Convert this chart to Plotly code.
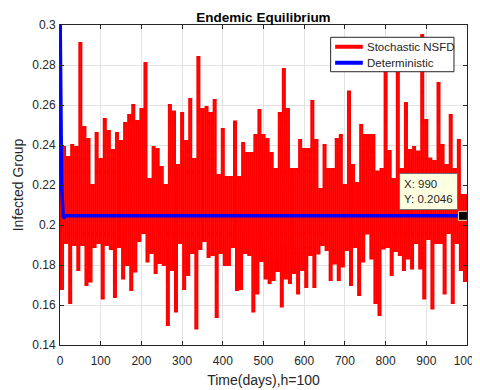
import plotly.graph_objects as go

# ---- data ----
# Stochastic NSFD: local maxima at days 0,10,...,1000 and local minima at days 5,15,...,995
stoch_high = [
    0.271, 0.239, 0.234, 0.240, 0.239, 0.291, 0.249, 0.243, 0.220, 0.246,
    0.233, 0.253, 0.247, 0.2375, 0.246, 0.242, 0.251, 0.255, 0.260, 0.252,
    0.258, 0.281, 0.223, 0.239, 0.238, 0.229, 0.220, 0.260, 0.2567, 0.230,
    0.256, 0.242, 0.263, 0.233, 0.284, 0.258, 0.259, 0.256, 0.2625, 0.225,
    0.248, 0.224, 0.224, 0.2517, 0.224, 0.241, 0.236, 0.236, 0.245, 0.2575,
    0.245, 0.243, 0.236, 0.228, 0.256, 0.278, 0.258, 0.228, 0.228, 0.2425,
    0.238, 0.238, 0.262, 0.2425, 0.218, 0.240, 0.228, 0.228, 0.243, 0.245,
    0.220, 0.2667, 0.230, 0.221, 0.250, 0.245, 0.245, 0.245, 0.2267, 0.228,
    0.284, 0.237, 0.223, 0.276, 0.228, 0.261, 0.2375, 0.239, 0.2367, 0.295,
    0.2525, 0.2333, 0.232, 0.271, 0.240, 0.230, 0.255, 0.228, 0.2425, 0.215,
    0.215,
]
stoch_low = [
    0.168, 0.191, 0.161, 0.190, 0.1775, 0.190, 0.170, 0.1717, 0.189, 0.191,
    0.1633, 0.190, 0.188, 0.164, 0.189, 0.1733, 0.180, 0.1675, 0.1767, 0.192,
    0.196, 0.1817, 0.186, 0.176, 0.181, 0.180, 0.150, 0.1775, 0.1567, 0.191,
    0.168, 0.175, 0.186, 0.1483, 0.188, 0.192, 0.184, 0.185, 0.154, 0.186,
    0.180, 0.180, 0.189, 0.1675, 0.168, 0.186, 0.185, 0.1567, 0.1658, 0.182,
    0.1733, 0.171, 0.1725, 0.177, 0.1592, 0.1733, 0.171, 0.176, 0.1658, 0.1775,
    0.169, 0.185, 0.169, 0.1858, 0.190, 0.1875, 0.1725, 0.1808, 0.1725, 0.1792,
    0.1875, 0.170, 0.189, 0.165, 0.1817, 0.1958, 0.1833, 0.161, 0.155, 0.1883,
    0.189, 0.175, 0.187, 0.185, 0.1775, 0.1833, 0.1783, 0.191, 0.1783, 0.1633,
    0.193, 0.1583, 0.191, 0.191, 0.1658, 0.196, 0.161, 0.191, 0.1775, 0.172,
]
high_days = [10 * k for k in range(len(stoch_high))]
low_days = [10 * k + 5 for k in range(len(stoch_low))]

# Deterministic solution
det_days = [0, 4, 8, 15, 1000]
det_vals = [0.31, 0.22, 0.2035, 0.2046, 0.2046]

# Data tip
tip_x = 990
tip_y = 0.2046

series_names = ["Stochastic NSFD", "Deterministic"]
series_colors = ["#ff0000", "#0000ff"]

x_ticks = [0, 100, 200, 300, 400, 500, 600, 700, 800, 900, 1000]
y_ticks = [0.14, 0.16, 0.18, 0.2, 0.22, 0.24, 0.26, 0.28, 0.3]
y_ticktext = ["0.14", "0.16", "0.18", "0.2", "0.22", "0.24", "0.26", "0.28", "0.3"]

# interleave maxima and minima into one time series
stoch_days, stoch_vals = [], []
for i in range(len(stoch_high)):
    stoch_days.append(high_days[i]); stoch_vals.append(stoch_high[i])
    if i < len(stoch_low):
        stoch_days.append(low_days[i]); stoch_vals.append(stoch_low[i])

FONT = "Liberation Sans, Arial, Helvetica, sans-serif"
AX = "#262626"

fig = go.Figure()
fig.add_trace(go.Scatter(x=stoch_days, y=stoch_vals, mode="lines", name=series_names[0],
                         line=dict(color=series_colors[0], width=2, shape="hvh"),
                         showlegend=False))
fig.add_trace(go.Scatter(x=det_days, y=det_vals, mode="lines", name=series_names[1],
                         line=dict(color=series_colors[1], width=3.5), showlegend=False))
fig.add_trace(go.Scatter(x=[tip_x], y=[tip_y], mode="markers", showlegend=False,
                         marker=dict(symbol="square", size=9, color="black",
                                     line=dict(color="#e8e0b8", width=1))))

# data tip label
fig.add_annotation(x=tip_x, y=tip_y, xref="x", yref="y", showarrow=False,
                   text=f"X: {tip_x}<br>Y: {tip_y}", align="left",
                   xanchor="right", yanchor="bottom", xshift=-5, yshift=6,
                   bgcolor="#ffffe1", bordercolor="#707070", borderwidth=1, borderpad=4,
                   font=dict(family=FONT, size=11.5, color="#262626"))

# legend box (MATLAB style)
fig.add_shape(type="rect", xref="paper", yref="paper", x0=0.665, x1=0.968, y0=0.854, y1=0.9616,
              fillcolor="white", line=dict(color=AX, width=1))
for i, yy in enumerate([0.932, 0.882]):
    fig.add_shape(type="line", xref="paper", yref="paper", x0=0.676, x1=0.744, y0=yy, y1=yy,
                  line=dict(color=series_colors[i], width=4))
    fig.add_annotation(x=0.749, y=yy, xref="paper", yref="paper", text=series_names[i],
                       showarrow=False, xanchor="left", yanchor="middle",
                       font=dict(family=FONT, size=11.5, color=AX))

# page body has an 8px margin: size the figure so the plot lands where it should
fig.update_layout(
    width=472, height=382,
    margin=dict(l=52, r=13, t=17, b=45, autoexpand=False),
    paper_bgcolor="white", plot_bgcolor="white",
    font=dict(family=FONT, size=12, color=AX),
    title=dict(text="<b>Endemic Equilibrium</b>", x=0.5, xref="paper", xanchor="center",
               y=1, yref="paper", yanchor="bottom", pad=dict(b=3),
               font=dict(family=FONT, size=13.5, color="black")),
    showlegend=False,
)
fig.update_xaxes(range=[0, 1000], tickvals=x_ticks, ticks="inside", ticklen=4,
                 tickcolor=AX, showline=True, linecolor=AX, linewidth=1, mirror="ticks",
                 showgrid=True, gridcolor="#e3e3e3", zeroline=False, automargin=False,
                 ticklabelstandoff=5, ticklabeloverflow="allow",
                 tickfont=dict(size=12, color=AX),
                 title=dict(text="Time(days),h=100", font=dict(size=14, color=AX), standoff=7))
fig.update_yaxes(range=[0.14, 0.3], tickvals=y_ticks, ticktext=y_ticktext, ticks="inside",
                 ticklen=4, tickcolor=AX, showline=True, linecolor=AX, linewidth=1,
                 mirror="ticks", showgrid=True, gridcolor="#e3e3e3", zeroline=False,
                 automargin=False, ticklabelstandoff=1, ticklabeloverflow="allow",
                 tickfont=dict(size=12, color=AX),
                 title=dict(text="Infected Group", font=dict(size=14, color=AX), standoff=5))

fig.write_html("out.html")
